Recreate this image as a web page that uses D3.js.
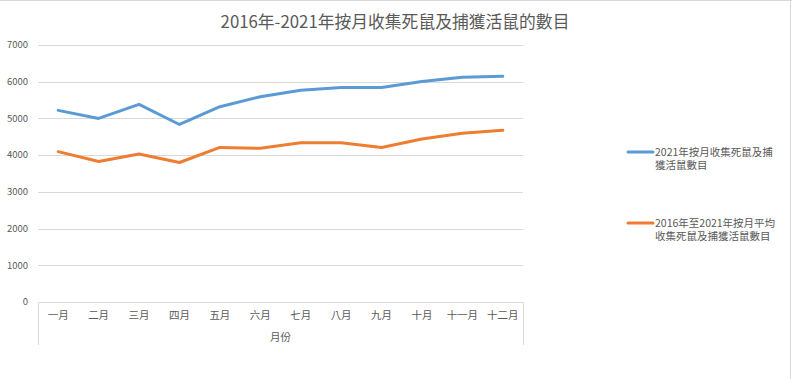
<!DOCTYPE html>
<html>
<head>
<meta charset="utf-8">
<script src="https://cdn.jsdelivr.net/npm/d3@7"></script>
<style>
  body { margin: 0; background: #fff; }
  text { font-family: "Noto Sans CJK TC", "Noto Sans", sans-serif; fill: #595959; }
</style>
</head>
<body>
<script>
var width = 792, height = 379;

// data
var months = ["一月","二月","三月","四月","五月","六月","七月","八月","九月","十月","十一月","十二月"];
var counts2021 = [5220, 5000, 5385, 4835, 5320, 5590, 5770, 5845, 5845, 6005, 6120, 6150];
var avg2016to2021 = [4095, 3825, 4030, 3800, 4210, 4185, 4335, 4335, 4210, 4440, 4595, 4675];
var yTicks = [0, 1000, 2000, 3000, 4000, 5000, 6000, 7000];
var seriesNames = [
  ["2021年按月收集死鼠及捕", "獲活鼠數目"],
  ["2016年至2021年按月平均", "收集死鼠及捕獲活鼠數目"]
];
var seriesColors = ["#5b9bd5", "#ed7d31"];

var plot = {left: 38, right: 523, top: 45, bottom: 302};

var svg = d3.select("body")
  .append("svg")
  .attr("width", width)
  .attr("height", height);

// outer frame (top and right edges only show in the picture)
svg.append("line").attr("x1", 0).attr("x2", width).attr("y1", 0.5).attr("y2", 0.5)
  .attr("stroke", "#d9d9d9");
svg.append("line").attr("x1", width - 1.5).attr("x2", width - 1.5).attr("y1", 0).attr("y2", height)
  .attr("stroke", "#d9d9d9");

var x = d3.scaleBand()
  .domain(months)
  .range([plot.left, plot.right]);

var y = d3.scaleLinear()
  .domain([0, 7000])
  .range([plot.bottom, plot.top]);

// gridlines
svg.selectAll(".grid")
  .data(yTicks.filter(function(d){ return d > 0; }))
  .enter().append("line")
  .attr("class", "grid")
  .attr("x1", plot.left)
  .attr("x2", plot.right)
  .attr("y1", function(d){ return Math.round(y(d)) + 0.5; })
  .attr("y2", function(d){ return Math.round(y(d)) + 0.5; })
  .attr("stroke", "#d9d9d9");

// y tick labels
svg.selectAll(".ylab")
  .data(yTicks)
  .enter().append("text")
  .attr("class", "ylab")
  .attr("x", 28)
  .attr("y", function(d){ return y(d); })
  .attr("dy", "0.35em")
  .attr("text-anchor", "end")
  .style("font-size", "9.5px")
  .text(function(d){ return d; });

// category axis box
var axisBottom = 345;
svg.append("path")
  .attr("d", "M" + (plot.left + 0.5) + "," + axisBottom + "V" + (plot.bottom + 0.5) +
             "H" + (plot.right + 0.5) + "V" + axisBottom)
  .attr("fill", "none")
  .attr("stroke", "#d9d9d9");

svg.selectAll(".xlab")
  .data(months)
  .enter().append("text")
  .attr("class", "xlab")
  .attr("x", function(d){ return x(d) + x.bandwidth() / 2; })
  .attr("y", 315)
  .attr("dy", "0.35em")
  .attr("text-anchor", "middle")
  .style("font-size", "10.5px")
  .text(function(d){ return d; });

svg.append("text")
  .attr("x", (plot.left + plot.right) / 2)
  .attr("y", 337)
  .attr("dy", "0.35em")
  .attr("text-anchor", "middle")
  .style("font-size", "10.5px")
  .text("月份");

// title
svg.append("text")
  .attr("x", 395)
  .attr("y", 22)
  .attr("dy", "0.35em")
  .attr("text-anchor", "middle")
  .style("font-size", "16.8px")
  .text("2016年-2021年按月收集死鼠及捕獲活鼠的數目");

// lines
var line = d3.line()
  .x(function(d, i){ return x(months[i]) + x.bandwidth() / 2; })
  .y(function(d){ return y(d); });

[counts2021, avg2016to2021].forEach(function(s, k){
  svg.append("path")
    .datum(s)
    .attr("d", line)
    .attr("fill", "none")
    .attr("stroke", seriesColors[k])
    .attr("stroke-width", 3)
    .attr("stroke-linejoin", "round")
    .attr("stroke-linecap", "round");
});

// legend
var legendY = [152, 223];
seriesNames.forEach(function(name, k){
  var g = svg.append("g").attr("transform", "translate(628," + legendY[k] + ")");
  g.append("line")
    .attr("x1", 0).attr("x2", 25)
    .attr("stroke", seriesColors[k])
    .attr("stroke-width", 3)
    .attr("stroke-linecap", "round");
  g.selectAll("text")
    .data(name)
    .enter().append("text")
    .attr("x", 27)
    .attr("y", function(d, i){ return i * 13.5; })
    .attr("dy", "0.35em")
    .style("font-size", "10.5px")
    .text(function(d){ return d; });
});
</script>
</body>
</html>
